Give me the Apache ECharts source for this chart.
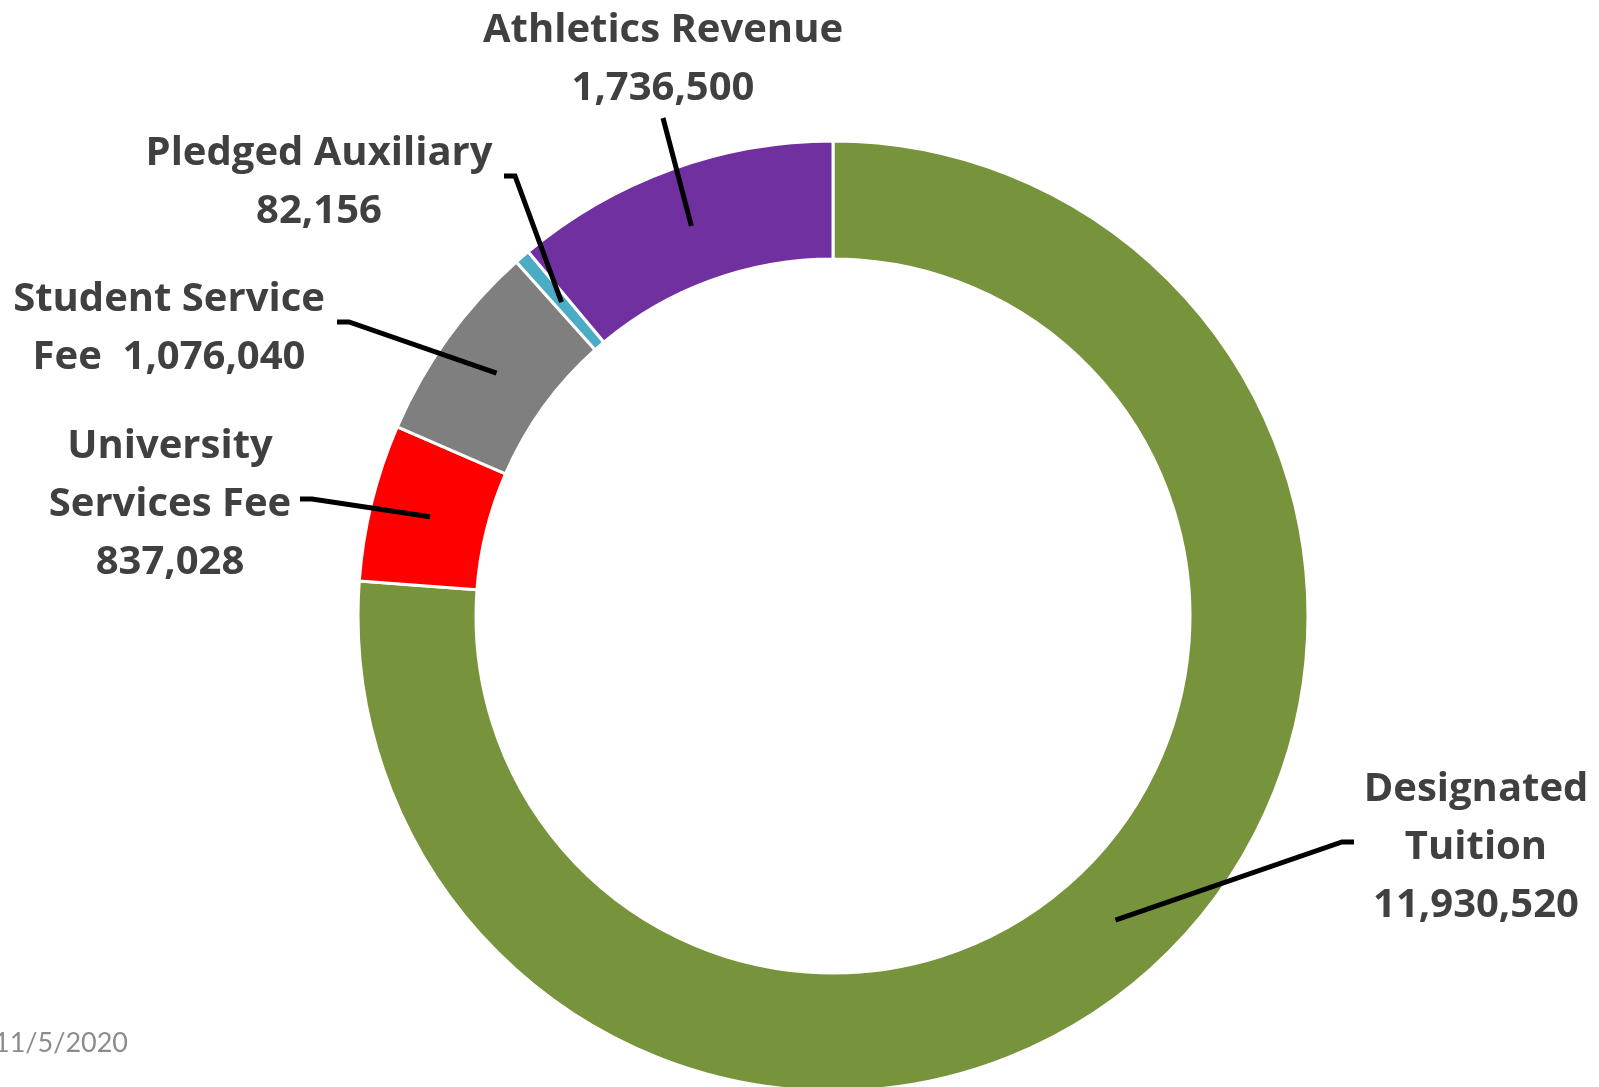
<!DOCTYPE html>
<html>
<head>
<meta charset="utf-8">
<script src="https://cdn.jsdelivr.net/npm/echarts@6/dist/echarts.min.js"></script>
<style>
html,body{margin:0;padding:0;background:#fff;}
#chart{width:1599px;height:1087px;}
</style>
</head>
<body>
<div id="chart"></div>
<script>
// ---- data ----
const categories = ['Designated\nTuition', 'University\nServices Fee', 'Student Service\nFee', 'Pledged Auxiliary', 'Athletics Revenue'];
const values = [11930520, 837028, 1076040, 82156, 1736500];
const valueSeparators = ['\n', '\n', '  ', '\n', '\n'];
const colors = ['#77933C', '#FF0000', '#7F7F7F', '#4BACC6', '#7030A0'];
const dateText = '11/5/2020';

// ---- layout (not data) ----
const CX = 833, CY = 616, R0 = 357, R1 = 475;
const labelCenters = [[1476, 848], [170, 505], [169, 329], [319, 183], [663, 60]];
const leaderEnds = [
  [[1342, 842], [1354, 842]],
  [[312, 499], [300, 499]],
  [[349, 322], [337, 322]],
  [[515, 176], [504, 176]],
  [[663, 118]]
];

const total = values.reduce((a, b) => a + b, 0);
function midPoint(i) {
  let before = 0;
  for (let k = 0; k < i; k++) before += values[k];
  const midFrac = (before + values[i] / 2) / total;
  const ang = midFrac * 2 * Math.PI; // clockwise from top
  const r = 415;
  return [CX + r * Math.sin(ang), CY - r * Math.cos(ang)];
}

const fmt = v => v.toLocaleString('en-US');

const leaderGraphics = values.map((v, i) => ({
  type: 'polyline',
  z: 100,
  shape: {points: [midPoint(i)].concat(leaderEnds[i])},
  style: {stroke: '#000000', lineWidth: 5, fill: null, lineJoin: 'miter'}
}));

const chart = echarts.init(document.getElementById('chart'), null, {renderer: 'canvas'});
chart.setOption({
  backgroundColor: '#ffffff',
  animation: false,
  graphic: [{
    type: 'text',
    left: -6,
    top: 1030,
    style: {text: dateText, fill: '#8C8C8C', font: '27px Lato', textVerticalAlign: 'top'}
  }].concat(leaderGraphics),
  series: [{
    type: 'pie',
    center: [CX, CY],
    radius: [R0, R1],
    startAngle: 90,
    clockwise: true,
    avoidLabelOverlap: false,
    itemStyle: {borderColor: '#ffffff', borderWidth: 3},
    label: {
      show: true,
      position: 'outside',
      color: '#404040',
      fontFamily: 'Open Sans',
      fontWeight: 'bold',
      fontSize: 40,
      lineHeight: 58,
      align: 'center',
      formatter: p => p.name + valueSeparators[p.dataIndex] + fmt(p.value)
    },
    labelLine: {show: false},
    labelLayout: function (params) {
      const c = labelCenters[params.dataIndex];
      return {x: c[0], y: c[1], align: 'center', verticalAlign: 'middle'};
    },
    data: categories.map((n, i) => ({name: n, value: values[i], itemStyle: {color: colors[i]}}))
  }]
});
</script>
</body>
</html>
